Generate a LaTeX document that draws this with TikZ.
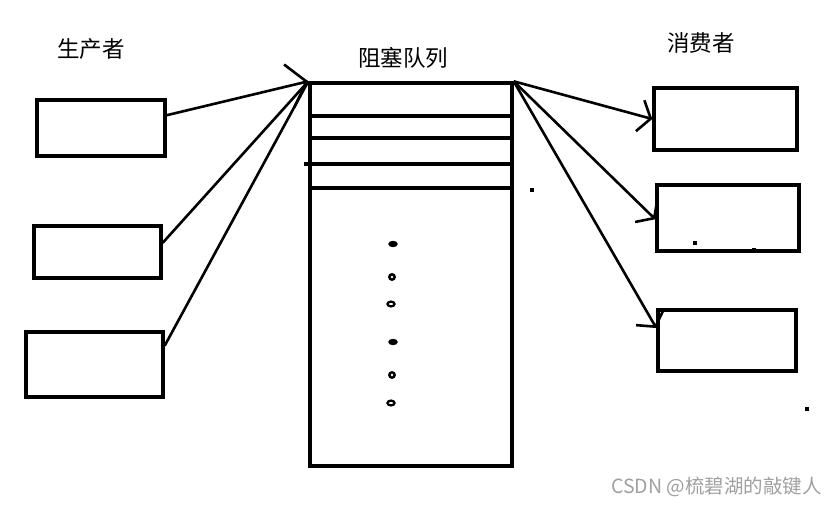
\documentclass[tikz,border=0pt]{standalone}
\usepackage{fontspec}
\newfontfamily\cjk{Noto Sans CJK SC}
\usepackage{tikz}
\usetikzlibrary{positioning, arrows.meta, calc}

\definecolor{markgray}{RGB}{160,160,160}

\tikzset{
    box/.style={draw, line width=3.4pt, rectangle, inner sep=0pt},
    feed/.style={line width=2.6pt, -{Straight Barb[length=11pt, width=32pt, line width=2.6pt]}},
    bigfeed/.style={line width=2.6pt, -{Straight Barb[length=18pt, width=44pt, line width=2.6pt]}},
    title/.style={font=\cjk\fontsize{22.5}{24}\selectfont, inner sep=0pt},
}

\begin{document}
\begin{tikzpicture}[x=1pt, y=-1pt]
    \useasboundingbox[fill=white] (0,0) rectangle (837,506);

    % Producers
    \node[box, minimum width=128pt, minimum height=56pt] (p1) at (101,128) {};
    \node[box, minimum width=127pt, minimum height=52pt] (p2) at (97.5,252) {};
    \node[box, minimum width=137pt, minimum height=65pt] (p3) at (94.5,364.5) {};
    \node[title] (ptitle) at (91,49) {生产者};

    % Blocking queue
    \node[box, minimum width=202pt, minimum height=383pt] (queue) at (411,274.5) {};
    \node[title] (qtitle) at (403,58) {阻塞队列};
    \foreach \y in {116, 138, 188} \draw[line width=3.4pt] (queue.west |- 0,\y) -- (queue.east |- 0,\y);
    \draw[line width=3.4pt] ($(queue.west |- 0,164)+(-4,0)$) -- (queue.east |- 0,164);

    % Ellipsis dots
    \foreach \y in {244, 342} \fill (393,\y) ellipse (4.8pt and 3.2pt);
    \foreach \y in {277, 375} {
        \fill (392,\y) circle (4pt);
        \fill[white] (392,\y) circle (1.3pt);
    }
    \foreach \y in {304, 403} {
        \fill (391,\y) ellipse (4.8pt and 3.6pt);
        \fill[white] (391,\y) ellipse (2.4pt and 0.9pt);
    }

    % Consumers
    \node[box, minimum width=143pt, minimum height=62pt] (c1) at (725.5,119) {};
    \node[box, minimum width=142pt, minimum height=66pt] (c2) at (728,218) {};
    \node[box, minimum width=138pt, minimum height=61pt] (c3) at (727,340.5) {};
    \node[title] (ctitle) at (701,43) {消费者};

    % Producers into the queue
    \draw[bigfeed] (p1.11) -- (queue.north west);
    \draw[line width=2.6pt] (p2.8) -- (queue.north west);
    \draw[line width=2.6pt] (p3.15) -- (queue.north west);

    % Queue out to consumers
    \draw[feed] (queue.north east) -- (c1.west);
    \draw[feed] (queue.north east) -- (c2.181);
    \draw[feed] (queue.north east) -- (c3.170);

    % Stray specks
    \foreach \x/\y in {530/188, 693/241, 752/248, 805/407} \fill (\x,\y) rectangle ++(3.5,3.5);

    % Watermark
    \node[font=\cjk\fontsize{19.5}{21}\selectfont, text=markgray, inner sep=0pt, anchor=east] (mark) at (822,487) {CSDN @梳碧湖的敲键人};
\end{tikzpicture}
\end{document}
